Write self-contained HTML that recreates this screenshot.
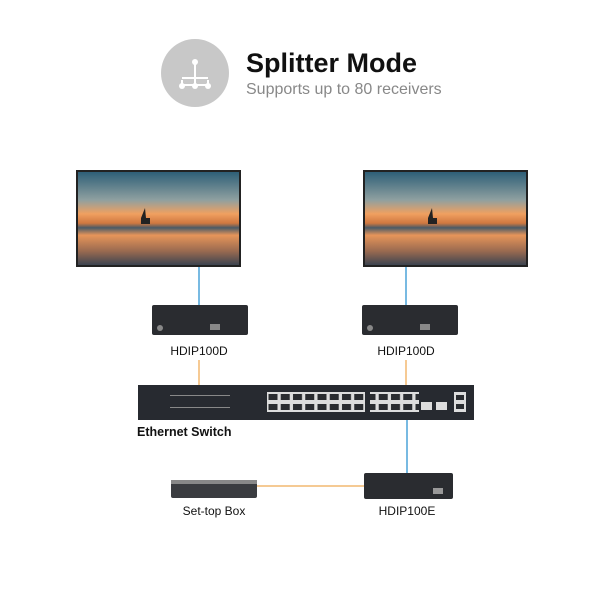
<!DOCTYPE html>
<html><head><style>
body{margin:0;width:600px;height:600px;background:#fff;font-family:"Liberation Sans",sans-serif;overflow:hidden}
</style></head><body>
<svg width="600" height="600" viewBox="0 0 600 600" xmlns="http://www.w3.org/2000/svg">
<defs>
<linearGradient id="sky" x1="0" y1="0" x2="0" y2="1">
<stop offset="0" stop-color="#2e5f77"/><stop offset="0.3" stop-color="#8fa0a0"/>
<stop offset="0.45" stop-color="#f0a060"/><stop offset="0.55" stop-color="#d07840"/>
<stop offset="0.6" stop-color="#4a5a66"/><stop offset="0.68" stop-color="#e6955a"/>
<stop offset="0.85" stop-color="#9a6a50"/><stop offset="1" stop-color="#3d4450"/>
</linearGradient>
<pattern id="ports" x="267" y="392" width="12.25" height="10" patternUnits="userSpaceOnUse">
<rect width="12.25" height="10" fill="#ddd"/>
<rect x="1.5" y="2" width="9" height="6" fill="#2a2c30"/>
</pattern>
</defs>
<circle cx="195" cy="73" r="34" fill="#c8c8c8"/>
<g stroke="#fff" stroke-width="2" fill="none">
<path d="M195 63V80M182 80V85H208V80M182 78H208M195 78V86"/>
</g>
<g fill="#fff"><circle cx="195" cy="62" r="3"/><circle cx="182" cy="86" r="3"/><circle cx="195" cy="86" r="3"/><circle cx="208" cy="86" r="3"/></g>
<text x="246" y="72" font-size="27" font-weight="bold" fill="#111">Splitter Mode</text>
<text x="246" y="94" font-size="16" fill="#888">Supports up to 80 receivers</text>

<g>
<rect x="76" y="170" width="165" height="97" fill="#222"/>
<rect x="78" y="172" width="161" height="93" fill="url(#sky)"/>
<rect x="363" y="170" width="165" height="97" fill="#222"/>
<rect x="365" y="172" width="161" height="93" fill="url(#sky)"/>
<path d="M141 218l4-10 1 10h4v6h-9z M428 218l4-10 1 10h4v6h-9z" fill="#222"/>
</g>
<g stroke="#4aa3d8" stroke-width="1.5">
<line x1="199" y1="267" x2="199" y2="306"/>
<line x1="406" y1="267" x2="406" y2="306"/>
<line x1="407" y1="420" x2="407" y2="474"/>
</g>
<g stroke="#f2b870" stroke-width="1.5">
<line x1="199" y1="360" x2="199" y2="386"/>
<line x1="406" y1="360" x2="406" y2="386"/>
<line x1="256" y1="486" x2="365" y2="486"/>
</g>
<rect x="152" y="305" width="96" height="30" rx="2" fill="#2a2c30"/>
<rect x="362" y="305" width="96" height="30" rx="2" fill="#2a2c30"/>
<g fill="#888"><rect x="210" y="324" width="10" height="6"/><rect x="420" y="324" width="10" height="6"/><circle cx="160" cy="328" r="3"/><circle cx="370" cy="328" r="3"/></g>
<text x="199" y="355" font-size="12" text-anchor="middle" fill="#111">HDIP100D</text>
<text x="406" y="355" font-size="12" text-anchor="middle" fill="#111">HDIP100D</text>

<rect x="138" y="385" width="336" height="35" fill="#272a30"/>
<rect x="267" y="392" width="98" height="20" fill="url(#ports)"/>
<rect x="370" y="392" width="49" height="20" fill="url(#ports)"/>
<g fill="#ddd">
<rect x="421" y="402" width="11" height="8"/><rect x="436" y="402" width="11" height="8"/>
<rect x="454" y="392" width="12" height="20"/>
</g>
<g fill="#2a2c30"><rect x="456" y="395" width="8" height="5"/><rect x="456" y="404" width="8" height="5"/></g>
<g fill="#888"><rect x="170" y="395" width="60" height="1"/><rect x="170" y="407" width="60" height="1"/></g>
<text x="137" y="436" font-size="12.5" fill="#111" font-weight="bold">Ethernet Switch</text>

<rect x="171" y="480" width="86" height="18" rx="2" fill="#3a3c40"/>
<rect x="171" y="480" width="86" height="4" fill="#888"/>
<rect x="364" y="473" width="89" height="26" rx="2" fill="#2a2c30"/>
<rect x="433" y="488" width="10" height="6" fill="#999"/>
<text x="214" y="515" font-size="12" text-anchor="middle" fill="#111">Set-top Box</text>
<text x="407" y="515" font-size="12" text-anchor="middle" fill="#111">HDIP100E</text>
</svg>
</body></html>
